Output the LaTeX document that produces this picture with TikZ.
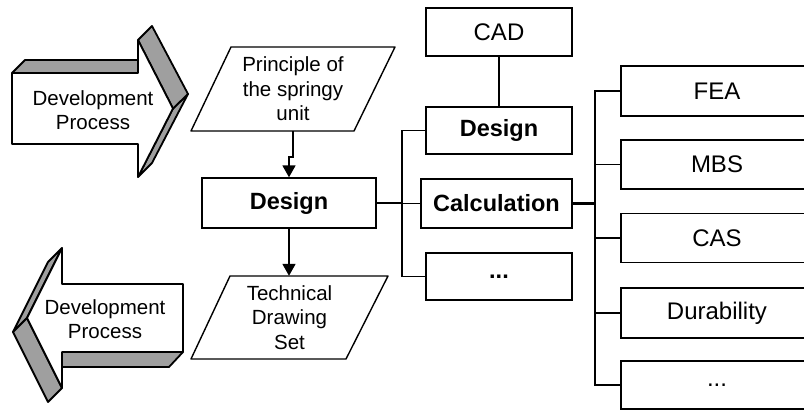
\documentclass[tikz,border=0pt]{standalone}
\usepackage{fontspec}
\setmainfont{Liberation Sans}
\usetikzlibrary{arrows.meta,calc}
\begin{document}
\begin{tikzpicture}[x=1pt,y=-1pt,
  box/.style={draw, line width=1.4pt, minimum width=146pt, minimum height=48pt, inner sep=0pt, font=\fontsize{24}{28}\selectfont},
  bbox/.style={box, font=\fontsize{23.5}{28}\selectfont\bfseries},
  ptext/.style={align=center, inner sep=0pt, font=\fontsize{20.5}{24.5}\selectfont},
  conn/.style={line width=1.4pt},
  thickconn/.style={line width=2.6pt},
  arr/.style={line width=1.8pt, -{Triangle[width=13pt,length=12pt]}},
  face/.style={draw, line width=1.8pt, line join=round, fill=white},
  side/.style={draw, line width=1.8pt, line join=round, fill=gray!75},
]
\useasboundingbox (0,0) rectangle (804,410);
\begin{scope}
\clip (0,0) rectangle (804,410);

% right-pointing 3D arrow
\path[side] (12,73) -- (25,60) -- (138,60) -- (138,73) -- cycle;
\path[side] (173,108.5) -- (188,94) -- (152,163) -- (138,177) -- cycle;
\path[side] (138,40) -- (152,26) -- (188,94) -- (173,108.5) -- cycle;
\path[face] (12,73) -- (138,73) -- (138,40) -- (173,108.5) -- (138,177) -- (138,144) -- (12,144) -- cycle;
\node[ptext] (arrR) at (93,110) {Development\\Process};

% left-pointing 3D arrow
\path[side] (62,352) -- (183,352) -- (169,367) -- (62,367) -- cycle;
\path[side] (62,248) -- (27,318) -- (13,332) -- (48,262) -- cycle;
\path[side] (27,318) -- (13,332) -- (48,402) -- (62,388) -- cycle;
\path[face] (183,284) -- (62,284) -- (62,248) -- (27,318) -- (62,388) -- (62,352) -- (183,352) -- cycle;
\node[ptext] (arrL) at (105,319) {Development\\Process};

% parallelograms
\path[face, line width=1.4pt] (231,47) -- (395,47) -- (354,131) -- (191,131) -- cycle;
\node[ptext, minimum height=84pt] (p1) at (293,89) {Principle of\\the springy\\unit};
\path[face, line width=1.4pt] (230,276) -- (388,276) -- (346,359) -- (191,359) -- cycle;
\node[ptext, minimum height=83pt] (p2) at (289.5,317.5) {Technical\\Drawing\\Set};

% main design box
\node[bbox, minimum width=174pt, minimum height=50pt] (d1) at (289,203) {Design};

% middle column
\node[box] (cad) at (499,32) {CAD};
\node[bbox, minimum height=47pt] (d2) at (499,130.5) {Design};
\node[bbox, minimum width=151pt, minimum height=49pt] (calc) at (496.5,203.5) {Calculation};
\node[bbox, minimum height=47pt] (dots1) at (499,276.5) {...};

% right column
\node[box, minimum width=192pt, minimum height=50pt] (fea) at (717,91) {FEA};
\node[box, minimum width=192pt, minimum height=49pt] (mbs) at (717,164.5) {MBS};
\node[box, minimum width=192pt, minimum height=49pt] (cas) at (717,238) {CAS};
\node[box, minimum width=192pt, minimum height=50pt] (dur) at (717,313) {Durability};
\node[box, minimum width=192pt, minimum height=48pt] (dots2) at (717,385) {...};

% connectors
\draw[arr] (p1.south) -- ++(0,26) -| (d1.north);
\draw[arr] (d1.south) -- (d1.south |- p2.north);

\coordinate (b1) at (402,203);
\draw[thickconn] (d1.east) -- (b1);
\draw[conn] (d2.west) -| (b1 |- dots1.west) -- (dots1.west);
\draw[conn] (calc.west) -- (calc.west -| b1);
\draw[conn] (cad.south) -- (cad.south |- d2.north);

\coordinate (b2) at (595,203.5);
\draw[thickconn] (calc.east) -- (b2);
\draw[conn] (fea.west) -| (b2 |- dots2.west) -- (dots2.west);
\draw[conn] (mbs.west) -- (mbs.west -| b2);
\draw[conn] (cas.west) -- (cas.west -| b2);
\draw[conn] (dur.west) -- (dur.west -| b2);
\end{scope}
\end{tikzpicture}
\end{document}
